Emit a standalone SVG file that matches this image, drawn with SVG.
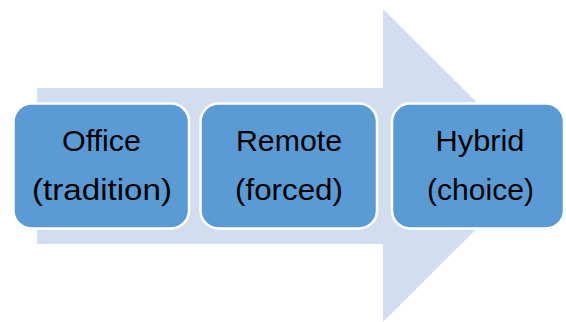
<svg xmlns="http://www.w3.org/2000/svg" width="566" height="322" viewBox="0 0 566 322">
<style>
.box{fill:#5B9BD5;stroke:#FFFFFF;stroke-width:2.5}
.lbl{font-family:"Liberation Sans","Open Sans",Arial,sans-serif;font-size:29px;fill:#000000;text-anchor:middle}
</style>
<rect width="566" height="322" fill="#FFFFFF"/>
<g id="connectors">
<polygon id="arrow" points="37,88 383,88 383,9 540,165.5 383,322 383,244 37,244" fill="#D2DEEF"/>
</g>
<g id="office">
<rect class="box" x="13.5" y="103.5" width="175.5" height="125" rx="18"/>
<text class="lbl" x="101.5" y="150.5" textLength="79" lengthAdjust="spacingAndGlyphs">Office</text>
<text class="lbl" x="102" y="200" textLength="140" lengthAdjust="spacingAndGlyphs">(tradition)</text>
</g>
<g id="remote">
<rect class="box" x="200.5" y="103.5" width="176.5" height="125" rx="18"/>
<text class="lbl" x="289" y="150.5" textLength="106" lengthAdjust="spacingAndGlyphs">Remote</text>
<text class="lbl" x="289" y="200" textLength="108" lengthAdjust="spacingAndGlyphs">(forced)</text>
</g>
<g id="hybrid">
<rect class="box" x="392" y="103.5" width="172" height="125" rx="18"/>
<text class="lbl" x="480" y="150.5" textLength="89" lengthAdjust="spacingAndGlyphs">Hybrid</text>
<text class="lbl" x="480.5" y="200" textLength="107" lengthAdjust="spacingAndGlyphs">(choice)</text>
</g>
</svg>
